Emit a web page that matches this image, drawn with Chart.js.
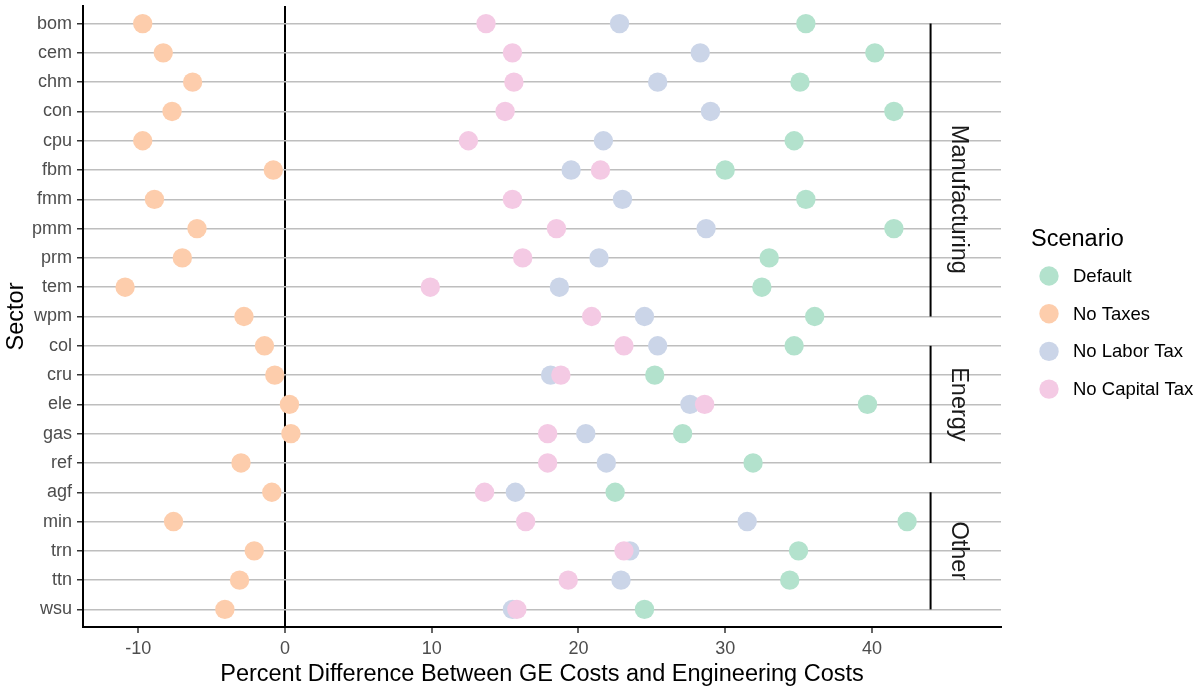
<!DOCTYPE html>
<html>
<head>
<meta charset="utf-8">
<script src="https://cdn.jsdelivr.net/npm/chart.js@4"></script>
<style>
  body { margin: 0; background: #fff; }
  #wrap { width: 1204px; height: 689px; }
</style>
</head>
<body>
<div id="wrap"><canvas id="myChart" width="1204" height="689"></canvas></div>
<script>
// data
const SECTORS = ["bom", "cem", "chm", "con", "cpu", "fbm", "fmm", "pmm", "prm", "tem", "wpm",
  "col", "cru", "ele", "gas", "ref", "agf", "min", "trn", "ttn", "wsu"];
const SCENARIOS = ["Default", "No Taxes", "No Labor Tax", "No Capital Tax"];
const DEFAULT_VALUES = [35.5, 40.2, 35.1, 41.5, 34.7, 30.0, 35.5, 41.5, 33.0, 32.5, 36.1,
  34.7, 25.2, 39.7, 27.1, 31.9, 22.5, 42.4, 35.0, 34.4, 24.5];
const NO_TAXES = [-9.7, -8.3, -6.3, -7.7, -9.7, -0.8, -8.9, -6.0, -7.0, -10.9, -2.8,
  -1.4, -0.7, 0.3, 0.4, -3.0, -0.9, -7.6, -2.1, -3.1, -4.1];
const NO_LABOR_TAX = [22.8, 28.3, 25.4, 29.0, 21.7, 19.5, 23.0, 28.7, 21.4, 18.7, 24.5,
  25.4, 18.1, 27.6, 20.5, 21.9, 15.7, 31.5, 23.5, 22.9, 15.5];
const NO_CAPITAL_TAX = [13.7, 15.5, 15.6, 15.0, 12.5, 21.5, 15.5, 18.5, 16.2, 9.9, 20.9,
  23.1, 18.8, 28.6, 17.9, 17.9, 13.6, 16.4, 23.1, 19.3, 15.8];
const X_TICKS = [-10, 0, 10, 20, 30, 40];

// sector groups shown as strips on the right
const GROUP_NAMES = ["Manufacturing", "Energy", "Other"];
const GROUP_FIRST = ["bom", "col", "agf"];
const GROUP_LAST = ["wpm", "ref", "wsu"];
const GROUP_LABEL_AT = ["fmm", "ele", "trn"];

const COLORS = ["#b3e2cd", "#fdcdac", "#cbd5e8", "#f4cae4"];
const FONT = "'Liberation Sans', Arial, sans-serif";
const STRIP_X = 44;

const toPoints = (vals) => vals.map((v, i) => ({ x: v, y: i }));
const seriesValues = [DEFAULT_VALUES, NO_TAXES, NO_LABOR_TAX, NO_CAPITAL_TAX];

const datasets = SCENARIOS.map((name, k) => ({
  label: name,
  data: toPoints(seriesValues[k]),
  backgroundColor: COLORS[k],
  borderWidth: 0,
  pointRadius: 9.7,
  pointHoverRadius: 9.7,
  order: SCENARIOS.length - 1 - k, // last scenario drawn on top
}));

// group brackets + rotated labels
const stripPlugin = {
  id: "strips",
  afterDatasetsDraw(chart) {
    const { ctx, scales } = chart;
    const x = scales.x.getPixelForValue(STRIP_X);
    ctx.save();
    GROUP_NAMES.forEach((name, g) => {
      const y1 = scales.y.getPixelForValue(SECTORS.indexOf(GROUP_FIRST[g]));
      const y2 = scales.y.getPixelForValue(SECTORS.indexOf(GROUP_LAST[g]));
      ctx.strokeStyle = "#000";
      ctx.lineWidth = 2;
      ctx.beginPath();
      ctx.moveTo(x, y1);
      ctx.lineTo(x, y2);
      ctx.stroke();

      const yl = scales.y.getPixelForValue(SECTORS.indexOf(GROUP_LABEL_AT[g]));
      ctx.save();
      ctx.translate(x + 28, yl);
      ctx.rotate(Math.PI / 2);
      ctx.fillStyle = "#1a1a1a";
      ctx.font = "23.5px " + FONT;
      ctx.textAlign = "center";
      ctx.textBaseline = "middle";
      ctx.fillText(name, 0, 0);
      ctx.restore();
    });
    ctx.restore();
  },
};

// legend on the right
const legendPlugin = {
  id: "scenarioLegend",
  afterDraw(chart) {
    const { ctx } = chart;
    ctx.save();
    ctx.fillStyle = "#000";
    ctx.font = "23.5px " + FONT;
    ctx.textAlign = "left";
    ctx.textBaseline = "middle";
    ctx.fillText("Scenario", 1031, 240);
    ctx.font = "18.5px " + FONT;
    SCENARIOS.forEach((name, k) => {
      const y = 276 + k * 37.7;
      ctx.fillStyle = COLORS[k];
      ctx.beginPath();
      ctx.arc(1049, y, 9.7, 0, Math.PI * 2);
      ctx.fill();
      ctx.fillStyle = "#000";
      ctx.fillText(name, 1073, y + 1);
    });
    ctx.restore();
  },
};

const ctx = document.getElementById("myChart");
new Chart(ctx, {
  type: "scatter",
  data: { datasets },
  plugins: [stripPlugin, legendPlugin],
  options: {
    responsive: false,
    animation: false,
    devicePixelRatio: 1,
    layout: { autoPadding: false, padding: { top: 6, right: 203, bottom: 0, left: 0 } },
    plugins: { legend: { display: false }, tooltip: { enabled: false } },
    scales: {
      x: {
        type: "linear",
        min: -13.77,
        max: 48.8,
        afterBuildTicks: (scale) => {
          scale.ticks = X_TICKS.map((v) => ({ value: v }));
        },
        afterFit: (scale) => {
          scale.height = 62;
          scale.paddingLeft = 0;
          scale.paddingRight = 0;
        },
        grid: {
          drawOnChartArea: true,
          color: (c) => (c.tick && c.tick.value === 0 ? "#000" : "rgba(0,0,0,0)"),
          lineWidth: 2,
          tickColor: "#333",
          tickLength: 6,
          tickWidth: 1.5,
        },
        border: { display: true, color: "#000", width: 2 },
        ticks: {
          color: "#4d4d4d",
          font: { family: FONT, size: 18 },
          padding: 5,
          maxRotation: 0,
        },
        title: {
          display: true,
          text: "Percent Difference Between GE Costs and Engineering Costs",
          color: "#000",
          font: { family: FONT, size: 23.5 },
          padding: { top: 0, bottom: 0 },
        },
      },
      y: {
        type: "linear",
        min: -0.6,
        max: 20.6,
        reverse: true,
        afterBuildTicks: (scale) => {
          scale.ticks = SECTORS.map((s, i) => ({ value: i }));
        },
        afterFit: (scale) => {
          scale.width = 83;
          scale.paddingTop = 0;
          scale.paddingBottom = 0;
        },
        grid: {
          color: "#bebebe",
          lineWidth: 1.5,
          tickColor: "#333",
          tickLength: 6,
          tickWidth: 1.5,
        },
        border: { display: true, color: "#000", width: 2 },
        ticks: {
          color: "#4d4d4d",
          font: { family: FONT, size: 18 },
          padding: 5,
          callback: (v) => SECTORS[v],
        },
        title: {
          display: true,
          text: "Sector",
          color: "#000",
          font: { family: FONT, size: 23.5 },
          padding: { top: 2, bottom: 0 },
        },
      },
    },
  },
});
</script>
</body>
</html>
